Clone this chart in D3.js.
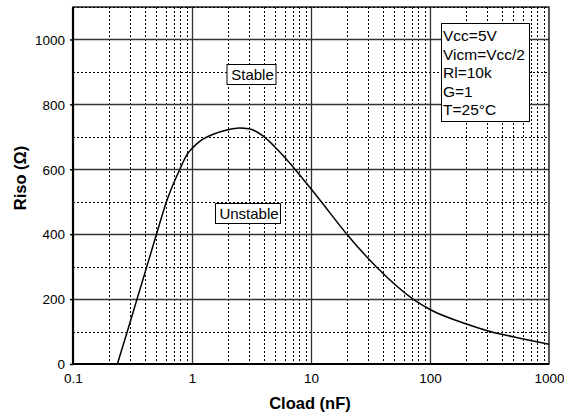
<!DOCTYPE html>
<html><head><meta charset="utf-8">
<script src="https://cdn.jsdelivr.net/npm/d3@7"></script>
<style>body{margin:0;background:#fff;} text{font-family:"Liberation Sans",Arial,sans-serif;}</style>
</head><body>
<svg id="c" width="564" height="414"></svg>
<script>
const cload = [0.236,0.286,0.345,0.417,0.503,0.61,0.79,0.9,1.0,1.16,1.49,2.0,2.5,3.0,3.95,5.0,6.6,8.0,10,12.2,20,35.7,72,100,200,315,500,1000];
const riso  = [0,100,200,300,400,500,600,643,664,686,707,722,727,725,703,668,620,583,540,500,400,298,200,168,124,101,84,61];
const xTicks = [0.1,1,10,100,1000];
const xTickLabels = ["0.1","1","10","100","1000"];
const yTicks = [0,200,400,600,800,1000];
const legendLines = ["Vcc=5V","Vicm=Vcc/2","Rl=10k","G=1","T=25°C"];

const svg = d3.select("#c");
const L=73, R=549, T=7, B=364;
const x = d3.scaleLog().domain([0.1,1000]).range([L,R]);
const y = d3.scaleLinear().domain([0,1100]).range([B,T]);

// minor vertical grid
const minorX=[];
for(let d=0.1; d<1000; d*=10) for(let k=2;k<=9;k++) minorX.push(d*k);
svg.append("g").selectAll("line").data(minorX).join("line")
  .attr("x1",d=>Math.round(x(d))+0.5).attr("x2",d=>Math.round(x(d))+0.5)
  .attr("y1",T).attr("y2",B).attr("stroke","#000").attr("stroke-width",1).attr("stroke-dasharray","2,2");
// minor horizontal grid
const minorY=[100,300,500,700,900,1100];
svg.append("g").selectAll("line").data(minorY).join("line")
  .attr("x1",L).attr("x2",R).attr("y1",d=>Math.round(y(d))+0.5).attr("y2",d=>Math.round(y(d))+0.5)
  .attr("stroke","#000").attr("stroke-width",1).attr("stroke-dasharray","2,2");
// major grid
svg.append("g").selectAll("line").data([1,10,100]).join("line")
  .attr("x1",d=>Math.round(x(d))+0.5).attr("x2",d=>Math.round(x(d))+0.5)
  .attr("y1",T).attr("y2",B).attr("stroke","#333").attr("stroke-width",1.3);
svg.append("g").selectAll("line").data([200,400,600,800,1000]).join("line")
  .attr("x1",L).attr("x2",R).attr("y1",d=>Math.round(y(d))+0.5).attr("y2",d=>Math.round(y(d))+0.5)
  .attr("stroke","#333").attr("stroke-width",1.3);

// frame
svg.append("rect").attr("x",L).attr("y",T).attr("width",R-L).attr("height",B-T)
  .attr("fill","none").attr("stroke","#000").attr("stroke-width",1.3);
svg.append("line").attr("x1",L).attr("x2",L).attr("y1",T).attr("y2",B+1).attr("stroke","#000").attr("stroke-width",2.2);
svg.append("line").attr("x1",L).attr("x2",R).attr("y1",B).attr("y2",B).attr("stroke","#000").attr("stroke-width",2.2);

// axes
const yAxis = d3.axisLeft(y).tickValues(yTicks).tickSize(3).tickFormat(d3.format("d"));
const gy = svg.append("g").attr("transform",`translate(${L},0)`).call(yAxis);
gy.select(".domain").remove();
gy.selectAll("text").attr("font-size",13.5).attr("font-family","Liberation Sans, Arial").attr("dx","-2").attr("dy","0.35em").attr("fill","#000");
gy.selectAll("line").attr("stroke-width",1.5);

const xAxis = d3.axisBottom(x).tickValues(xTicks).tickSize(0).tickFormat((d,i)=>xTickLabels[i]);
const gx = svg.append("g").attr("transform",`translate(0,${B})`).call(xAxis);
gx.select(".domain").remove();
gx.selectAll("text").attr("font-size",13.5).attr("font-family","Liberation Sans, Arial").attr("dy","1.2em").attr("fill","#000");

// titles
svg.append("text").attr("x",310).attr("y",408.5).attr("text-anchor","middle")
  .attr("font-size",16.5).attr("font-weight","bold").text("Cload (nF)");
svg.append("text").attr("transform",`translate(26,178) rotate(-90)`).attr("text-anchor","middle")
  .attr("font-size",16.5).attr("font-weight","bold").text("Riso (Ω)");

// curve
const pts = cload.map((c,i)=>[c,riso[i]]);
svg.append("path").datum(pts)
  .attr("d", d3.line().x(d=>x(d[0])).y(d=>y(d[1])).curve(d3.curveMonotoneX))
  .attr("fill","none").attr("stroke","#000").attr("stroke-width",1.5);

// labels with boxes
function boxLabel(txt, cx, cy, w, h){
  svg.append("rect").attr("x",cx-w/2).attr("y",cy-h/2).attr("width",w).attr("height",h)
    .attr("fill","#fff").attr("stroke","#000").attr("stroke-width",1);
  svg.append("text").attr("x",cx+1).attr("y",cy).attr("dy","0.36em").attr("text-anchor","middle")
    .attr("font-size",15).text(txt);
}
boxLabel("Stable", 251.5, 74.5, 49, 20);
boxLabel("Unstable", 248, 213.5, 65, 20);

// legend box
svg.append("rect").attr("x",441.5).attr("y",23.5).attr("width",88).attr("height",98)
  .attr("fill","#fff").attr("stroke","#000").attr("stroke-width",1);
svg.append("g").selectAll("text").data(legendLines).join("text")
  .attr("x",443).attr("y",(d,i)=>41+i*18.5).attr("font-size",15.5).text(d=>d);
</script>
</body></html>
